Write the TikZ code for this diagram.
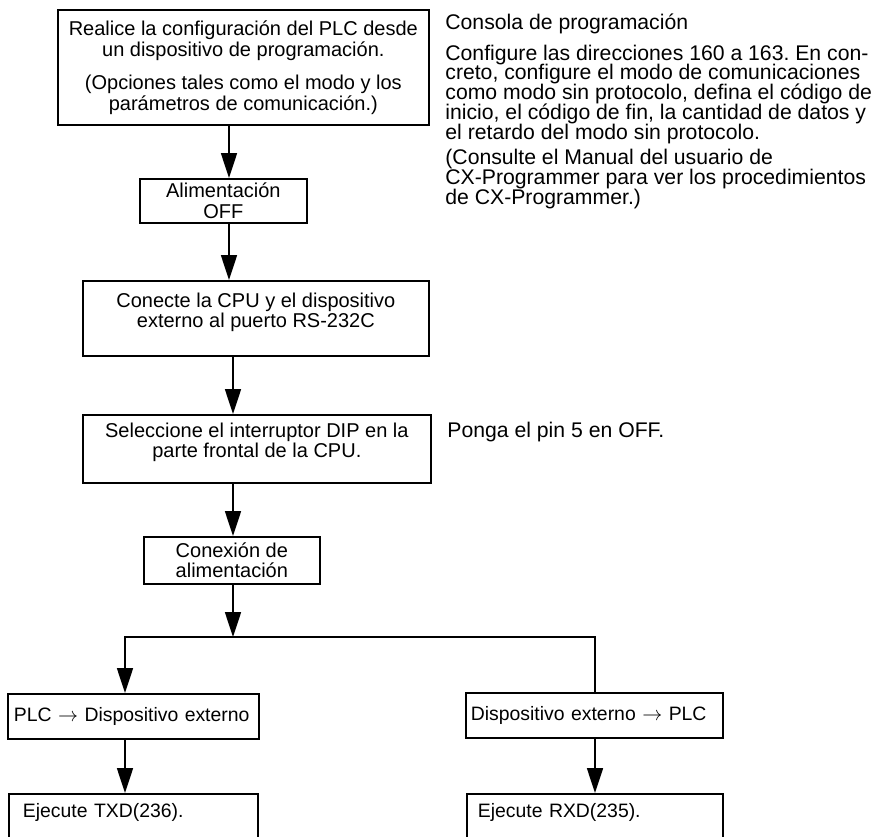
\documentclass[tikz,border=0pt]{standalone}
\usepackage{fontspec}
\setmainfont{Liberation Sans}
\usetikzlibrary{arrows.meta}
\frenchspacing
\lineskiplimit=-\maxdimen

\tikzset{
  stepbox/.style={draw, line width=0.85pt, anchor=north west, align=center,
    inner sep=0pt, font=\fontsize{10}{10.25}\selectfont},
  sidebox/.style={stepbox, align=left, font=\fontsize{9.7}{10}\selectfont},
  flow/.style={line width=0.85pt, -{Triangle[length=12.5pt,width=8pt]}},
  note/.style={align=left, inner sep=0pt, font=\fontsize{10.6}{9.85}\selectfont}
}

\begin{document}
\begin{tikzpicture}[x=0.5pt,y=-0.5pt,line join=miter]
  \useasboundingbox (0,0) rectangle (873,836);
  \clip (0,0) rectangle (873,836);
  % main column
  \node[stepbox, minimum width=185.5pt, minimum height=57.5pt,
    font=\fontsize{10}{10.5}\selectfont] (cfg) at (57,9)
    {Realice la configuración del PLC desde\\ un dispositivo de programación.\\[6pt]
     (Opciones tales como el modo y los\\ parámetros de comunicación.)};
  \node[stepbox, minimum width=83.5pt, minimum height=22pt] (off) at (139,178)
    {Alimentación\\ OFF};
  \node[stepbox, minimum width=173pt, minimum height=37.5pt, text depth=8pt] (con) at (82,280)
    {Conecte la CPU y el dispositivo\\ externo al puerto RS-232C};
  \node[stepbox, minimum width=174pt, minimum height=34pt, text depth=8.5pt] (dip) at (82,414)
    {Seleccione el interruptor DIP en la\\ parte frontal de la CPU.};
  \node[stepbox, minimum width=88pt, minimum height=23.5pt] (pwr) at (143,536)
    {Conexión de\\ alimentación};
  % two branches
  \node[sidebox, minimum width=125.5pt, minimum height=22.5pt, inner xsep=3pt,
    text width=119.5pt] (tx) at (7,693) {PLC $\rightarrow$ Dispositivo externo};
  \node[sidebox, minimum width=128.5pt, minimum height=22.5pt, inner xsep=2.5pt,
    text width=123.5pt] (rx) at (465,692) {Dispositivo externo $\rightarrow$ PLC};
  \node[sidebox, inner xsep=7pt, text width=110.5pt, inner ysep=4.75pt,
    text height=7pt, text depth=30pt] (txd) at (8,793) {Ejecute TXD(236).};
  \node[sidebox, inner xsep=5.5pt, text width=117pt, inner ysep=4.75pt,
    text height=7pt, text depth=30pt] (rxd) at (466,793) {Ejecute RXD(235).};
  % notes on the right
  \node[note, anchor=base west] (console) at (445,29) {Consola de programación};
  \node[note, anchor=north west] (addr) at (445,44.5)
    {Configure las direcciones 160 a 163. En con-\\
     creto, configure el modo de comunicaciones\\
     como modo sin protocolo, defina el código de\\
     inicio, el código de fin, la cantidad de datos y\\
     el retardo del modo sin protocolo.};
  \node[note, anchor=north west] (manual) at (445,149)
    {(Consulte el Manual del usuario de\\
     CX-Programmer para ver los procedimientos\\
     de CX-Programmer.)};
  \node[note, anchor=base west] (pin) at (447,437) {Ponga el pin 5 en OFF.};
  % connectors
  \coordinate (spineA) at (229,0);
  \coordinate (spineB) at (233,0);
  \coordinate (fork) at (233,637);
  \coordinate (forkL) at (125,637);
  \coordinate (forkR) at (595,637);
  \draw[flow] (cfg.south -| spineA) -- (off.north -| spineA);
  \draw[flow] (off.south -| spineA) -- (con.north -| spineA);
  \draw[flow] (con.south -| spineB) -- (dip.north -| spineB);
  \draw[flow] (dip.south -| spineB) -- (pwr.north -| spineB);
  \draw[flow] (pwr.south -| fork) -- (fork);
  \draw[flow] (rx.north -| forkR) -- (forkR) -- (forkL) -- (tx.north -| forkL);
  \draw[flow] (tx.south -| forkL) -- (txd.north -| forkL);
  \draw[flow] (rx.south -| forkR) -- (rxd.north -| forkR);
\end{tikzpicture}
\end{document}
